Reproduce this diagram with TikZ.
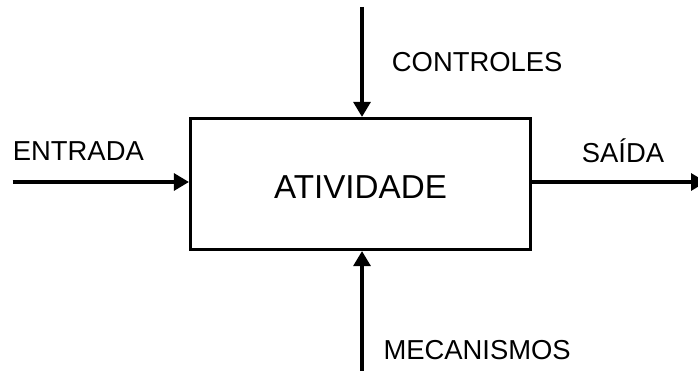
\documentclass[tikz,border=0pt]{standalone}
\usepackage{fontspec}
\setmainfont{Liberation Sans}
\usetikzlibrary{arrows.meta}
\begin{document}
\begin{tikzpicture}[x=1pt,y=-1pt,
  conn/.style={line width=3.2pt,-{Triangle[length=15pt,width=17pt]}},
  lbl/.style={inner sep=0pt,anchor=base west,font=\fontsize{27.4}{32}\selectfont},
  actbox/.style={draw,line width=3.2pt,minimum width=340pt,minimum height=131pt,inner sep=0pt,
    text height=30pt,text depth=0pt,font=\fontsize{33.2}{40}\selectfont}]
\useasboundingbox (0,0) rectangle (698,371);
\node[actbox] (box) at (360.5,184) {ATIVIDADE};
\coordinate (ctop) at (362,7);
\coordinate (cbot) at (362,380);
\coordinate (ein) at (12.5,182);
\coordinate (sout) at (706,182);
\draw[conn] (ctop) -- (ctop |- box.north);
\draw[conn] (cbot) -- (cbot |- box.south);
\draw[conn] (ein) -- (ein -| box.west);
\draw[conn] (box.east |- sout) -- (sout);
\node[lbl] (tentrada) at (12.7,160.7) {ENTRADA};
\node[lbl] (tcontroles) at (391.7,71.7) {CONTROLES};
\node[lbl] (tsaida) at (581.7,162.3) {SAÍDA};
\node[lbl] (tmec) at (383.3,359.3) {MECANISMOS};
\end{tikzpicture}
\end{document}
